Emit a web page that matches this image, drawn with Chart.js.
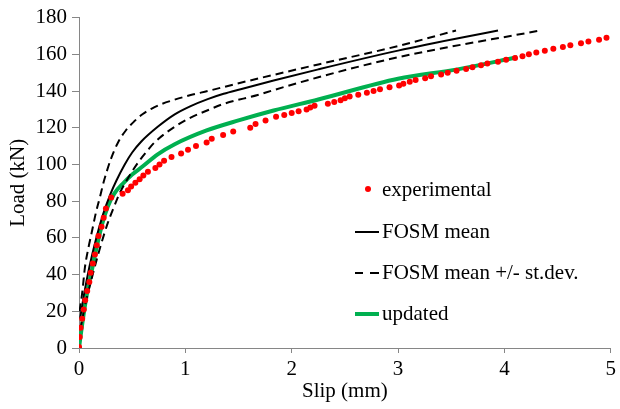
<!DOCTYPE html>
<html>
<head>
<meta charset="utf-8">
<script src="https://cdn.jsdelivr.net/npm/chart.js@4.4.0/dist/chart.umd.min.js"></script>
<style>
  body { margin: 0; background: #fff; }
  #wrap { position: relative; width: 620px; height: 409px; }
  #legend { position: absolute; left: 0; top: 0; font-family: "Liberation Serif", "Times New Roman", serif; font-size: 21px; color: #000; }
  .lg-text { position: absolute; left: 382px; line-height: 24px; white-space: nowrap; }
  .lg-sym { position: absolute; }
</style>
</head>
<body>
<div id="wrap">
  <canvas id="chart" width="620" height="409"></canvas>
  <div id="legend">
    <div class="lg-sym" style="left:365px;top:186px;width:6px;height:6px;border-radius:50%;background:#ff0000"></div>
    <div class="lg-text" style="top:177px">experimental</div>
    <div class="lg-sym" style="left:355px;top:231px;width:24px;height:2px;background:#000"></div>
    <div class="lg-text" style="top:219px">FOSM mean</div>
    <div class="lg-sym" style="left:355px;top:272px;width:8px;height:2px;background:#000"></div>
    <div class="lg-sym" style="left:370px;top:272px;width:9px;height:2px;background:#000"></div>
    <div class="lg-text" style="top:260px">FOSM mean +/- st.dev.</div>
    <div class="lg-sym" style="left:355px;top:312px;width:24px;height:4px;background:#00b050"></div>
    <div class="lg-text" style="top:301px">updated</div>
  </div>
</div>
<script>
// --- data ---
const expSlip = [0, 0.007, 0.015, 0.03, 0.045, 0.058, 0.077, 0.097, 0.11, 0.13, 0.15, 0.167, 0.183, 0.212, 0.232, 0.253,
  0.303, 0.41, 0.46, 0.49, 0.53, 0.57, 0.605, 0.648, 0.718, 0.757, 0.8, 0.87, 0.96, 1.025, 1.1, 1.2, 1.248, 1.355, 1.45,
  1.61, 1.66, 1.754, 1.853, 1.93, 2.0, 2.065, 2.14, 2.175, 2.215, 2.34, 2.4, 2.46, 2.5, 2.545, 2.626, 2.707, 2.77, 2.83,
  2.92, 3.01, 3.05, 3.11, 3.165, 3.255, 3.31, 3.405, 3.467, 3.55, 3.64, 3.7, 3.78, 3.84, 3.94, 4.016, 4.1, 4.17, 4.23,
  4.3, 4.38, 4.46, 4.55, 4.62, 4.72, 4.79, 4.89, 4.96];
const expLoad = [0.5, 6, 11, 16, 21, 26, 31, 36, 41, 46, 51, 56, 61, 66, 71, 76,
  82, 84, 86, 88, 90, 92, 94, 96, 98, 100, 102, 104, 106, 108, 110, 112, 114, 116, 118,
  120, 122, 124, 126, 127, 128, 129, 130, 131, 132, 133, 134, 135, 136, 137, 138, 139, 140, 141,
  142, 143, 144, 145, 146, 147, 148, 149, 150, 151, 152, 153, 154, 155, 156, 157, 158, 159, 160,
  161, 162, 163, 164, 165, 166, 167, 168, 169];

const meanSlip = [0.01, 0.05, 0.097, 0.165, 0.227, 0.3, 0.35, 0.43, 0.5, 0.586, 0.74, 0.9, 1.05, 1.21, 1.36, 1.52, 1.83, 2.25, 3.0, 3.94];
const meanLoad = [16, 30, 44, 60.5, 73, 84.5, 91, 100, 106.5, 112.5, 120.5, 127.3, 131.8, 135.6, 138.5, 141, 145.7, 151.8, 162, 173];

const upperSlip = [0.005, 0.03, 0.056, 0.09, 0.118, 0.16, 0.196, 0.23, 0.26, 0.3, 0.367, 0.44, 0.52, 0.6, 0.68, 0.78, 0.9,
  1.05, 1.21, 1.52, 1.83, 2.25, 3.0, 3.545];
const upperLoad = [20, 30, 44, 55, 62.5, 74, 82, 90, 96, 103, 112, 118.5, 123.5, 127.5, 130.3, 133, 135.3,
  137.8, 140, 144.5, 148.8, 154.5, 164.5, 173];

const lowerSlip = [0.012, 0.06, 0.12, 0.2, 0.27, 0.33, 0.38, 0.445, 0.555, 0.65, 0.71, 0.9, 1.05, 1.21, 1.36, 1.68, 1.83, 2.25, 3.0, 4.34];
const lowerLoad = [10, 24, 38, 55, 68, 77, 84, 91, 101, 108, 112, 120.5, 125.5, 129.5, 133, 137.8, 140.5, 147.5, 158.4, 173];

const updSlip = [0, 0.03, 0.07, 0.12, 0.17, 0.22, 0.27, 0.33, 0.42, 0.5, 0.6, 0.74, 0.9, 1.2, 1.5, 1.83, 2.25, 3.0, 3.56, 4.12];
const updLoad = [0, 13, 28, 42, 56, 68, 77, 84, 90, 94.5, 99, 105.5, 111, 118.5, 124, 129.4, 135.4, 146.7, 151.8, 158.4];

const xTicks = [0, 1, 2, 3, 4, 5];
const yTicks = [0, 20, 40, 60, 80, 100, 120, 140, 160, 180];

function pts(xs, ys) {
  return xs.map((x, i) => ({ x: x, y: ys[i] }));
}

const axisGray = '#868686';
const font = { family: '"Liberation Serif", "Times New Roman", serif', size: 21 };

function curve(label, xs, ys, color, width, dash) {
  return {
    label: label,
    data: pts(xs, ys),
    showLine: true,
    borderColor: color,
    backgroundColor: color,
    borderWidth: width,
    borderDash: dash || [],
    pointRadius: 0,
    cubicInterpolationMode: 'monotone'
  };
}

new Chart(document.getElementById('chart'), {
  type: 'scatter',
  data: {
    datasets: [
      {
        label: 'experimental',
        data: pts(expSlip, expLoad),
        backgroundColor: '#ff0000',
        borderColor: '#ff0000',
        borderWidth: 0,
        pointRadius: 3
      },
      curve('FOSM mean', meanSlip, meanLoad, '#000', 2),
      curve('FOSM mean +/- st.dev.', upperSlip, upperLoad, '#000', 2, [8, 5]),
      curve('FOSM mean - st.dev.', lowerSlip, lowerLoad, '#000', 2, [8, 5]),
      curve('updated', updSlip, updLoad, '#00b050', 4)
    ]
  },
  options: {
    responsive: false,
    animation: false,
    devicePixelRatio: 1,
    layout: { padding: { top: 17, right: 6, left: 0, bottom: 0 } },
    plugins: { legend: { display: false }, tooltip: { enabled: false } },
    scales: {
      x: {
        type: 'linear',
        min: xTicks[0], max: xTicks[xTicks.length - 1],
        afterBuildTicks: s => { s.ticks = xTicks.map(v => ({ value: v })); },
        afterFit: s => { s.height = 61; },
        ticks: { font: font, color: '#000', padding: 4, maxRotation: 0 },
        grid: { drawOnChartArea: false, color: axisGray, tickLength: 5 },
        border: { color: axisGray },
        title: { display: true, text: 'Slip (mm)', font: font, color: '#000', padding: { top: 0, bottom: 5 } }
      },
      y: {
        type: 'linear',
        min: yTicks[0], max: yTicks[yTicks.length - 1],
        afterBuildTicks: s => { s.ticks = yTicks.map(v => ({ value: v })); },
        afterFit: s => { s.width = 79; },
        ticks: { font: font, color: '#000', padding: 5 },
        grid: { drawOnChartArea: false, color: axisGray, tickLength: 7 },
        border: { color: axisGray },
        title: { display: true, text: 'Load (kN)', font: font, color: '#000', padding: { top: 6, bottom: 0 } }
      }
    }
  }
});
</script>
</body>
</html>
